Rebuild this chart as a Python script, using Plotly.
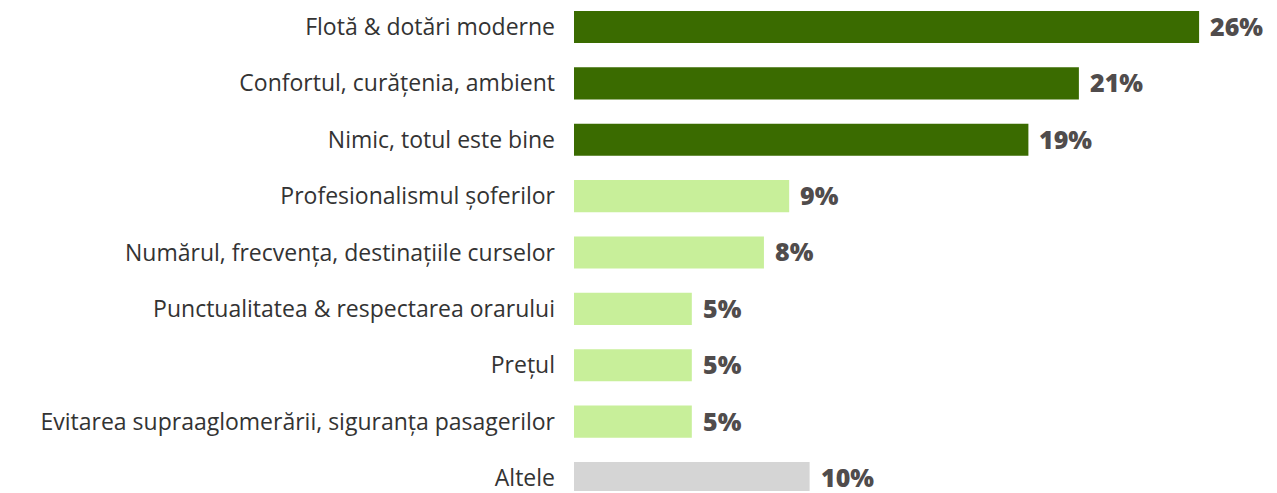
import plotly.graph_objects as go

categories = [
    "Flotă & dotări moderne",
    "Confortul, curățenia, ambient",
    "Nimic, totul este bine",
    "Profesionalismul șoferilor",
    "Numărul, frecvența, destinațiile curselor",
    "Punctualitatea & respectarea orarului",
    "Prețul",
    "Evitarea supraaglomerării, siguranța pasagerilor",
    "Altele",
]
values = [26.0, 21.0, 18.9, 8.95, 7.9, 4.9, 4.9, 4.9, 9.8]
value_labels = ["26%", "21%", "19%", "9%", "8%", "5%", "5%", "5%", "10%"]
bar_colors = ["#3a6b00"] * 3 + ["#c8ef9a"] * 5 + ["#d5d5d5"]

fig = go.Figure(go.Bar(
    x=values, y=categories, orientation="h",
    marker=dict(color=bar_colors, line=dict(width=0)),
    width=0.57, hoverinfo="skip",
))

# value labels sit a little to the right of each bar
for cat, val, lab in zip(categories, values, value_labels):
    fig.add_annotation(
        x=val, y=cat, text=lab, showarrow=False, xanchor="left", xshift=9, yshift=1,
        font=dict(family="Open Sans", size=25, color="#504c4c", weight=800),
    )

# page body has an 8px margin, so the figure is 8px smaller than the window
fig.update_layout(
    width=1269, height=485,
    margin=dict(l=566, r=0, t=0, b=0),
    plot_bgcolor="white", paper_bgcolor="white",
    showlegend=False,
    xaxis=dict(range=[0, 29.24], visible=False),
    yaxis=dict(
        type="category", range=[8.23, -0.336],
        showgrid=False, zeroline=False, showline=False,
        ticklabelstandoff=18,
        tickfont=dict(family="Open Sans", size=23, color="#333333"),
    ),
)

fig.write_html("out.html")
